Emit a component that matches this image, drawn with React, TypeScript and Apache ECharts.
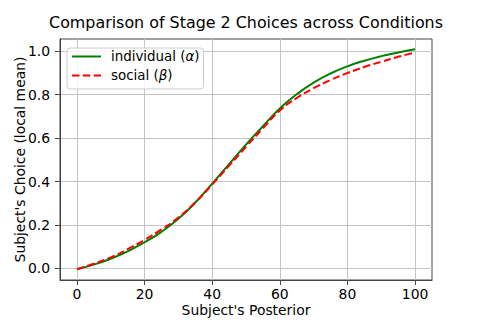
import React, { useEffect, useRef } from 'react';
import * as echarts from 'echarts';

const posterior = [0, 5, 10, 15, 20, 25, 30, 35, 40, 45, 50, 55, 60, 65, 70, 75, 80, 85, 90, 95, 100];
const individual = [-0.004, 0.017, 0.044, 0.078, 0.12, 0.168, 0.228, 0.303, 0.39, 0.48, 0.57, 0.655, 0.737, 0.802, 0.856, 0.898, 0.931, 0.957, 0.978, 0.995, 1.01];
const social = [-0.004, 0.021, 0.05, 0.088, 0.131, 0.179, 0.234, 0.304, 0.386, 0.473, 0.56, 0.645, 0.727, 0.785, 0.83, 0.868, 0.9, 0.928, 0.952, 0.975, 0.995];
const xTicks = [0, 20, 40, 60, 80, 100];
const yTicks = [0, 0.2, 0.4, 0.6, 0.8, 1.0];

const FONT = 'DejaVu Sans';
const AXIS_COLOR = '#444';
const GRID_COLOR = '#c4c4c4';

export default function App() {
  const ref = useRef<HTMLDivElement>(null);
  useEffect(() => {
    if (!ref.current) return;
    const chart = echarts.init(ref.current, undefined, { renderer: 'svg' });
    const toPairs = (ys: number[]) => posterior.map((x, i) => [x, ys[i]]);
    const axisCommon = {
      axisLine: { show: true, onZero: false, lineStyle: { color: AXIS_COLOR, width: 1 } },
      axisTick: { show: true, inside: false, length: 5, lineStyle: { color: AXIS_COLOR, width: 1 } },
      splitLine: { show: true, lineStyle: { color: GRID_COLOR, width: 1 } },
    };
    chart.setOption({
      animation: false,
      backgroundColor: '#ffffff',
      textStyle: { fontFamily: FONT },
      grid: { left: 60, right: 48, top: 39, bottom: 40, show: true, borderColor: AXIS_COLOR, borderWidth: 1, backgroundColor: 'transparent' },
      xAxis: {
        type: 'value',
        min: -5,
        max: 105,
        ...axisCommon,
        axisTick: { ...axisCommon.axisTick, customValues: xTicks },
        axisLabel: { customValues: xTicks, fontFamily: FONT, fontSize: 13.9, color: '#000', margin: 7 },
      },
      yAxis: {
        type: 'value',
        min: -0.054,
        max: 1.057,
        ...axisCommon,
        axisTick: { ...axisCommon.axisTick, customValues: yTicks },
        axisLabel: {
          customValues: yTicks,
          fontFamily: FONT,
          fontSize: 13.9,
          color: '#000',
          margin: 10,
          formatter: (v: number) => v.toFixed(1),
        },
      },
      legend: {
        orient: 'vertical',
        left: 67,
        top: 48,
        padding: [2, 4, 7, 4],
        itemWidth: 29,
        itemHeight: 16,
        itemGap: 6,
        backgroundColor: 'rgba(255,255,255,0.85)',
        borderColor: '#cccccc',
        borderWidth: 1,
        borderRadius: 3,
        itemStyle: { opacity: 0 },
        textStyle: {
          fontFamily: FONT,
          fontSize: 13.4,
          color: '#000',
          padding: [0, 0, 0, 5],
          rich: {
            n: { fontFamily: FONT, fontSize: 13.4, color: '#000' },
            i: { fontFamily: FONT, fontSize: 13.4, fontStyle: 'italic', color: '#000' },
          },
        },
        formatter: (name: string) => {
          if (name.startsWith('individual')) return '{n|individual (}{i|α}{n|)}';
          return '{n|social (}{i|β}{n|)}';
        },
        data: ['individual (α)', 'social (β)'],
      },
      series: [
        {
          name: 'individual (α)',
          type: 'line',
          data: toPairs(individual),
          smooth: 0.5,
          symbol: 'none',
          lineStyle: { color: '#008000', width: 2, type: 'solid' },
          itemStyle: { color: '#008000' },
          z: 2,
        },
        {
          name: 'social (β)',
          type: 'line',
          data: toPairs(social),
          smooth: 0.5,
          symbol: 'none',
          lineStyle: { color: '#ff0000', width: 2, type: [7.5, 3.3] },
          itemStyle: { color: '#ff0000' },
          z: 3,
        },
      ],
      graphic: [
        {
          type: 'text',
          x: 246,
          y: 22,
          style: { text: 'Comparison of Stage 2 Choices across Conditions', fontFamily: FONT, fontSize: 15.9, fill: '#000', textAlign: 'center', textVerticalAlign: 'middle' },
        },
        {
          type: 'text',
          x: 246,
          y: 309.5,
          style: { text: "Subject's Posterior", fontFamily: FONT, fontSize: 13.9, fill: '#000', textAlign: 'center', textVerticalAlign: 'middle' },
        },
        {
          type: 'text',
          x: 19.5,
          y: 159.5,
          rotation: Math.PI / 2,
          style: { text: "Subject's Choice (local mean)", fontFamily: FONT, fontSize: 13.9, fill: '#000', textAlign: 'center', textVerticalAlign: 'middle' },
        },
      ],
    });
    return () => chart.dispose();
  }, []);
  return <div ref={ref} style={{ position: 'fixed', left: 0, top: 0, width: 480, height: 320, background: '#fff' }} />;
}
